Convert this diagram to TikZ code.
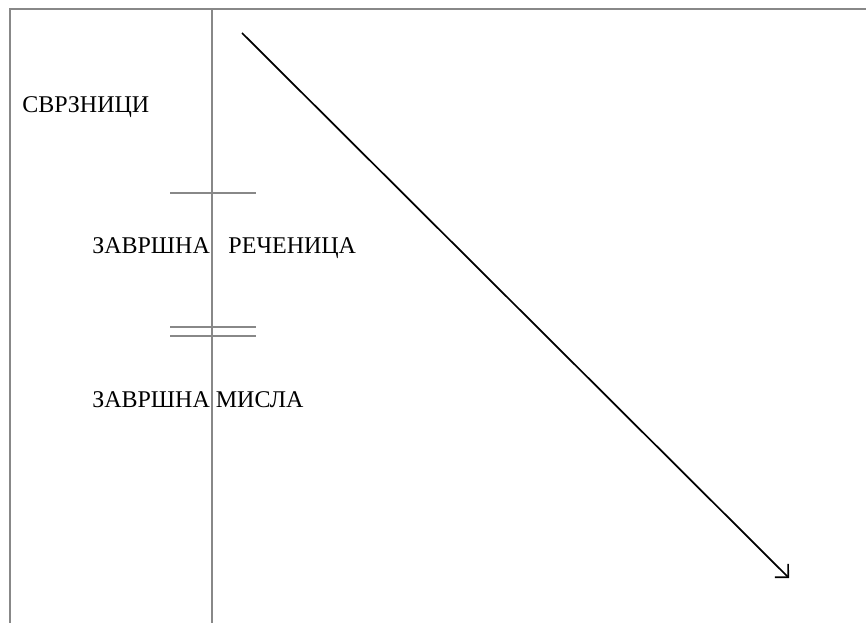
\documentclass[tikz,border=0pt]{standalone}
\usepackage{fontspec}
\setmainfont{Liberation Serif}
\usetikzlibrary{arrows.meta}

\begin{document}
\begin{tikzpicture}[x=0.75pt,y=0.75pt,yscale=-1,xscale=1,
  rule/.style={draw={rgb,255:red,136;green,136;blue,136},line width=1.5pt},
  label/.style={anchor=base west,inner sep=0pt,font=\fontsize{18}{21}\selectfont}]
\useasboundingbox (0,0) rectangle (866,623);

%Straight Lines [border top and left]
\draw [rule] (10,623) -- (10,9) -- (866,9) ;
%Straight Lines [column divider]
\draw [rule] (212,9) -- (212,623) ;
%Straight Lines [single cut]
\draw [rule] (170,193) -- (256,193) ;
%Straight Lines [double cut]
\draw [rule] (170,326.5) -- (256,326.5) ;
\draw [rule] (170,335.5) -- (256,335.5) ;

% Text Node
\node [label] (svrznici) at (22,113) {СВРЗНИЦИ};
% Text Node
\node [label] (recenica) at (92,254) {ЗАВРШНА\hspace{14pt}РЕЧЕНИЦА};
% Text Node
\node [label] (misla) at (92,407) {ЗАВРШНА МИСЛА};

%Arrow
\coordinate (start) at (242,33);
\coordinate (end) at (789,578);
\draw [line width=1.3pt,-{Straight Barb[length=7pt,width=14pt]}] (start) -- (end) ;
\end{tikzpicture}
\end{document}
